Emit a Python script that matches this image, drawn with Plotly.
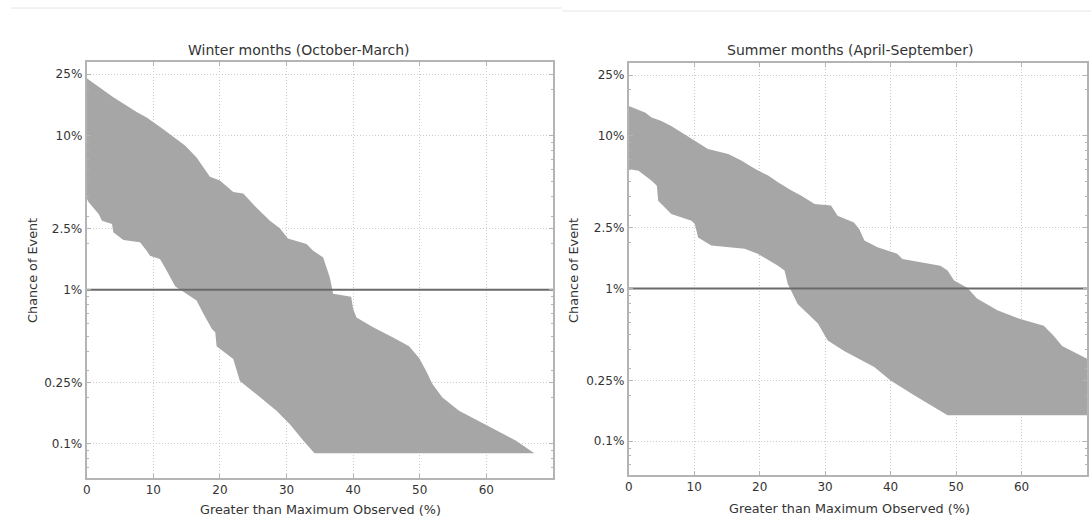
import plotly.graph_objects as go

# ---------------- data ----------------
winter_upper_x = [0, 0.3, 4.0, 7.5, 9.0, 11.5, 13.5, 14.8, 16.5, 18.5, 20.0, 22.0, 23.5, 25.5, 27.5,
                  29.0, 30.2, 33.0, 34.0, 35.5, 36.5, 37.0, 39.7, 40.0, 40.5, 43.0, 46.0, 48.4,
                  49.9, 50.9, 51.9, 53.4, 55.9, 59.4, 64.4, 67.2]
winter_upper_y = [23.5, 23.0, 17.7, 14.2, 13.1, 11.0, 9.5, 8.6, 7.2, 5.4, 5.1, 4.3, 4.2, 3.4, 2.8,
                  2.5, 2.15, 1.98, 1.79, 1.62, 1.20, 0.94, 0.90, 0.75, 0.66, 0.57, 0.49, 0.43,
                  0.36, 0.30, 0.244, 0.20, 0.164, 0.137, 0.105, 0.087]
winter_lower_x = [0, 0.3, 1.8, 2.3, 3.8, 4.0, 5.5, 8.0, 9.0, 9.5, 11.0, 12.0, 13.3, 14.8, 16.5,
                  17.5, 18.8, 19.3, 19.5, 22.0, 23.0, 25.5, 28.5, 30.5, 32.5, 34.2, 67.2]
winter_lower_y = [3.9, 3.69, 3.1, 2.8, 2.67, 2.36, 2.10, 2.03, 1.79, 1.66, 1.58, 1.33, 1.05, 0.95, 0.85,
                  0.70, 0.556, 0.53, 0.43, 0.355, 0.256, 0.21, 0.164, 0.134, 0.105, 0.087, 0.087]

summer_upper_x = [0, 0.7, 2.5, 3.5, 5.0, 6.5, 7.6, 8.8, 10.1, 12.1, 15.2, 17.2, 19.2, 21.3, 22.8,
                  24.8, 26.3, 28.4, 30.9, 31.9, 34.4, 35.2, 36.0, 38.0, 41.0, 41.8, 47.6, 48.7,
                  49.7, 51.7, 53.2, 56.3, 59.8, 63.4, 64.9, 66.2, 70.0]
summer_upper_y = [15.7, 15.3, 14.2, 13.2, 12.5, 11.6, 10.8, 10.0, 9.3, 8.2, 7.6, 6.9, 6.1, 5.5, 4.96,
                  4.4, 4.06, 3.58, 3.49, 3.0, 2.71, 2.45, 2.06, 1.86, 1.69, 1.56, 1.41, 1.31,
                  1.13, 1.01, 0.86, 0.72, 0.63, 0.57, 0.49, 0.42, 0.347]
summer_lower_x = [0, 1.5, 3.5, 4.3, 4.5, 5.0, 6.5, 9.6, 10.1, 10.6, 12.6, 17.7, 19.7, 22.8, 23.8,
                  24.3, 24.8, 25.8, 27.4, 28.9, 30.4, 32.9, 35.5, 37.5, 40.0, 43.6, 48.7, 70.0]
summer_lower_y = [6.06, 5.9, 5.08, 4.71, 3.76, 3.54, 3.08, 2.78, 2.65, 2.16, 1.91, 1.82, 1.69, 1.41, 1.31,
                  1.07, 0.97, 0.79, 0.68, 0.59, 0.457, 0.39, 0.34, 0.306, 0.25, 0.20, 0.148, 0.148]

threshold = 1.0
x_ticks = [0, 10, 20, 30, 40, 50, 60]
y_ticks = [0.1, 0.25, 1, 2.5, 10, 25]
y_tick_labels = ["0.1%", "0.25%", "1%", "2.5%", "10%", "25%"]
y_minor = [0.06, 0.07, 0.08, 0.09, 0.2, 0.3, 0.4, 0.5, 0.6, 0.7, 0.8, 0.9,
           2, 3, 4, 5, 6, 7, 8, 9, 20]
titles = ["Winter months (October-March)", "Summer months (April-September)"]
x_title = "Greater than Maximum Observed (%)"
y_title = "Chance of Event"

# ---------------- figure ----------------
W, H = 1091, 523
FONT = "DejaVu Sans"
FILL = "#a6a6a6"
FRAME = "#b4b4b4"
TXT = "#333333"
GRID = "#cccccc"

fig = go.Figure()

panels = [
    (winter_upper_x, winter_upper_y, winter_lower_x, winter_lower_y, "x", "y"),
    (summer_upper_x, summer_upper_y, summer_lower_x, summer_lower_y, "x2", "y2"),
]
for ux, uy, lx, ly, xa, ya in panels:
    px = list(ux) + list(reversed(lx))
    py = list(uy) + list(reversed(ly))
    fig.add_trace(go.Scatter(x=px, y=py, fill="toself", fillcolor=FILL, mode="lines",
                             line=dict(width=0, color=FILL), xaxis=xa, yaxis=ya,
                             showlegend=False, hoverinfo="skip"))
    fig.add_trace(go.Scatter(x=[0, 70], y=[threshold, threshold], mode="lines",
                             line=dict(color="#6a6a6a", width=2), xaxis=xa, yaxis=ya,
                             showlegend=False, hoverinfo="skip"))

def px2fx(p):
    return p / W

def px2fy(p):
    return 1 - p / H

xaxis_common = dict(range=[0, 70], tickvals=x_ticks, ticks="inside", ticklen=4, tickcolor=FRAME,
                    showline=True, linecolor=FRAME, linewidth=2, mirror="allticks",
                    showgrid=True, gridcolor=GRID, griddash="1px,2px", gridwidth=1,
                    zeroline=False, tickfont=dict(family=FONT, size=12, color=TXT))
yaxis_common = dict(type="log", range=[-1.2218, 1.4771], tickvals=y_ticks, ticktext=y_tick_labels,
                    ticks="inside", ticklen=4, tickcolor=FRAME,
                    showline=True, linecolor=FRAME, linewidth=2, mirror="allticks",
                    showgrid=True, gridcolor=GRID, griddash="1px,2px", gridwidth=1,
                    zeroline=False, tickfont=dict(family=FONT, size=12, color=TXT),
                    minor=dict(tickvals=y_minor, ticks="inside", ticklen=2, tickcolor=FRAME,
                               showgrid=False))

fig.update_layout(
    width=W, height=H, margin=dict(l=0, r=0, t=0, b=0),
    paper_bgcolor="white", plot_bgcolor="white",
    xaxis=dict(domain=[px2fx(83), px2fx(551)], anchor="y", **xaxis_common),
    yaxis=dict(domain=[px2fy(478), px2fy(62)], anchor="x", **yaxis_common),
    xaxis2=dict(domain=[px2fx(627), px2fx(1087)], anchor="y2", **xaxis_common),
    yaxis2=dict(domain=[px2fy(475), px2fy(63)], anchor="x2", **yaxis_common),
)

ann = []
ann.append(dict(text=titles[0], x=px2fx(296), y=px2fy(50)))
ann.append(dict(text=titles[1], x=px2fx(849), y=px2fy(50)))
ann.append(dict(text=x_title, x=px2fx(318), y=px2fy(509)))
ann.append(dict(text=x_title, x=px2fx(849), y=px2fy(508)))
for a in ann:
    a.update(xref="paper", yref="paper", showarrow=False, xanchor="center", yanchor="middle",
             font=dict(family=FONT, size=12.8, color=TXT))
ann[0]["font"]["size"] = 14
ann[1]["font"]["size"] = 14
for xp in (28, 571):
    ann.append(dict(text=y_title, x=px2fx(xp), y=px2fy(270), xref="paper", yref="paper",
                    showarrow=False, textangle=-90, xanchor="center", yanchor="middle",
                    font=dict(family=FONT, size=12.8, color=TXT)))
fig.update_layout(annotations=ann)

# faint screenshot separator lines at the very top
fig.add_shape(type="line", xref="paper", yref="paper", x0=px2fx(7), x1=px2fx(560),
              y0=px2fy(8), y1=px2fy(8), line=dict(color="#e6e6e6", width=1))
fig.add_shape(type="line", xref="paper", yref="paper", x0=px2fx(560), x1=1,
              y0=px2fy(11), y1=px2fy(11), line=dict(color="#e6e6e6", width=1))

fig.write_html("out.html", config={"displayModeBar": False},
               post_script="document.body.style.margin='0';document.body.style.overflow='hidden';")
